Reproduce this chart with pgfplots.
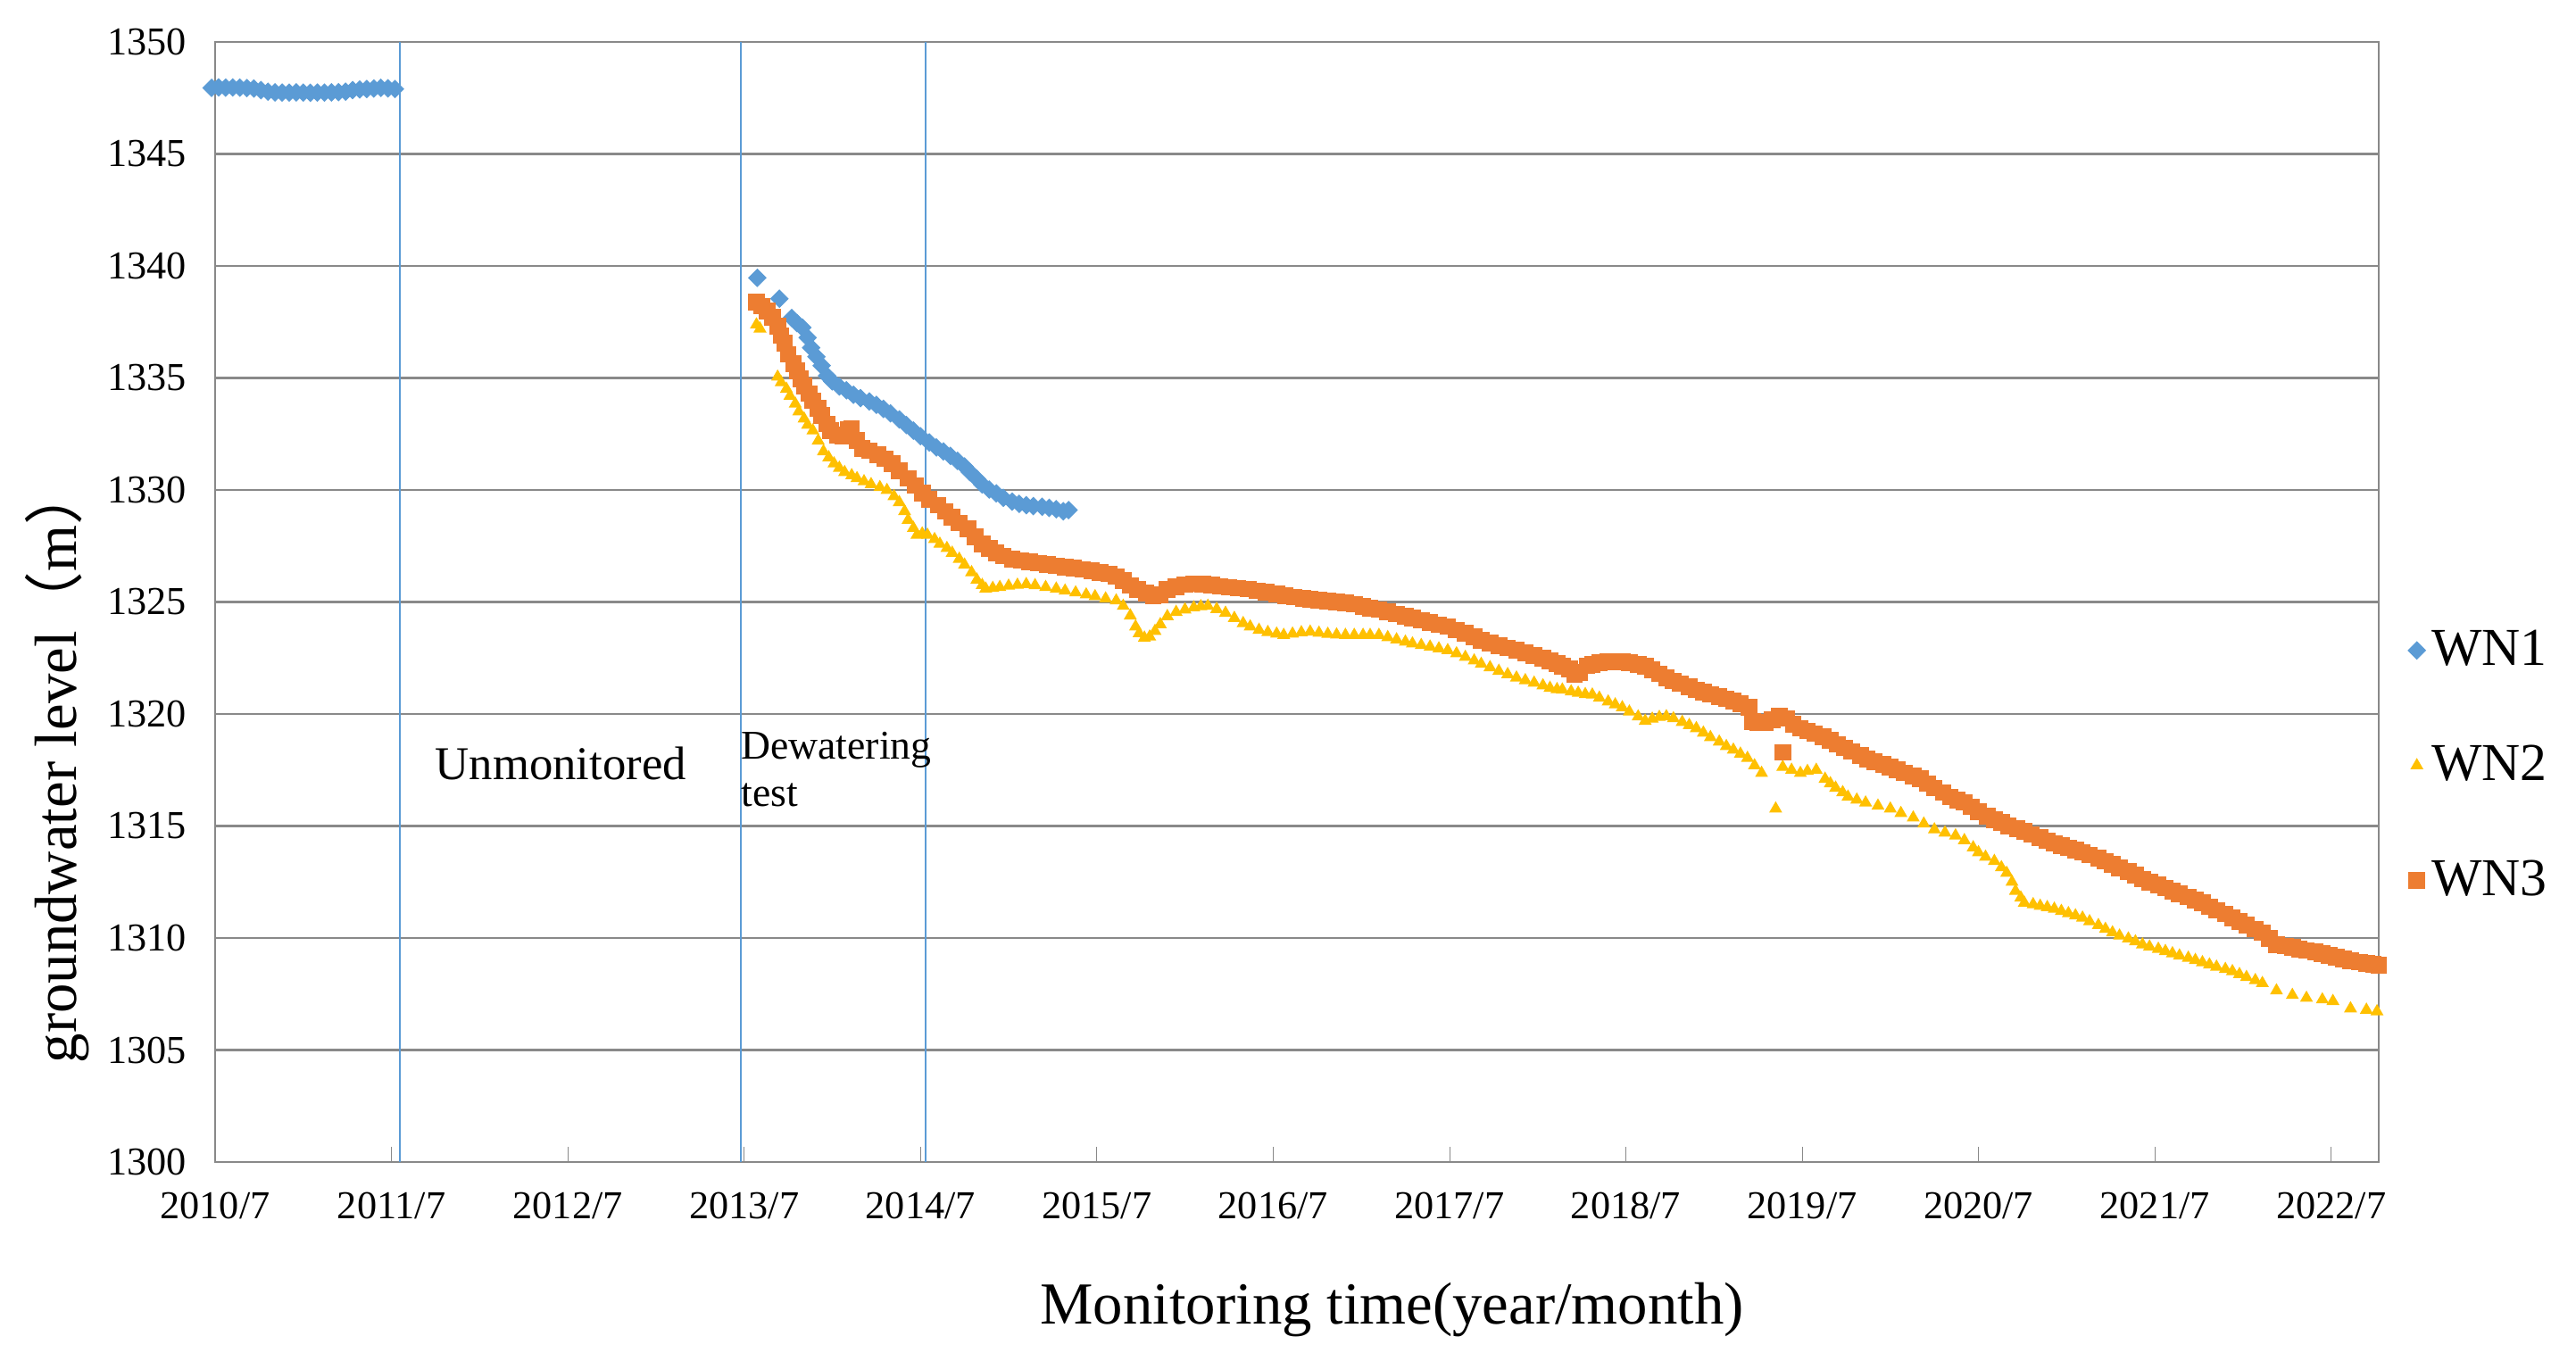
\documentclass[border=0pt]{standalone}
\usepackage{pgfplots}
\pgfplotsset{compat=1.18}
\usepackage{fontspec}
\setmainfont{Liberation Serif}
\newfontfamily\cjk{Noto Sans CJK SC}
\definecolor{wnblue}{HTML}{5B9BD5}
\definecolor{wnyellow}{HTML}{FFC000}
\definecolor{wnorange}{HTML}{ED7D31}
\definecolor{gridgray}{HTML}{898989}
\begin{document}
\begin{tikzpicture}
\useasboundingbox (-24.1mm,-21.3mm) rectangle (264.5mm,130.2mm);
\begin{axis}[
  at={(0,0)}, anchor=south west,
  scale only axis, width=242.4mm, height=125.5mm,
  xmin=2010.5, xmax=2022.77, ymin=1300, ymax=1350,
  clip=false,
  xtick={2010.5,2011.5,2012.5,2013.5,2014.5,2015.5,2016.5,2017.5,2018.5,2019.5,2020.5,2021.5,2022.5},
  xticklabels={2010/7,2011/7,2012/7,2013/7,2014/7,2015/7,2016/7,2017/7,2018/7,2019/7,2020/7,2021/7,2022/7},
  ytick={1300,1305,1310,1315,1320,1325,1330,1335,1340,1345,1350},
  yticklabels={1300,1305,1310,1315,1320,1325,1330,1335,1340,1345,1350},
  xtick pos=bottom, ytick pos=left,
  tick align=inside,
  major tick length=1.7mm,
  xtick style={draw=gridgray},
  ytick style={draw=none},
  ymajorgrids, major grid style={draw=gridgray, line width=0.28mm},
  axis line style={draw=gridgray, line width=0.22mm},
  tick label style={font=\fontsize{12.6}{15}\selectfont},
  xticklabel style={yshift=-2.2mm},
  yticklabel style={xshift=-2mm},
  xlabel={Monitoring time(year/month)},
  xlabel style={at={(axis description cs:0.544,0)}, anchor=center, yshift=-16.6mm, font=\fontsize{19}{23}\selectfont},
  ylabel={groundwater level{\cjk （}m{\cjk ）}},
  ylabel style={at={(axis description cs:0,0.355)}, anchor=center, yshift=17.7mm, font=\fontsize{19}{23}\selectfont},
  legend style={draw=none, fill=none, at={(axis description cs:1,0.354)}, anchor=west, xshift=2.2mm,
    font=\fontsize{17}{20}\selectfont, row sep=7mm},
  legend cell align=left,
  legend image code/.code={\draw[mark repeat=2,mark phase=2] plot coordinates {(0cm,0cm) (0.3cm,0cm) (0.75cm,0cm)};},
]
% monitoring phase boundaries
\addplot[wnblue, line width=0.2mm, forget plot] coordinates {(2011.55,1300) (2011.55,1350)};
\addplot[wnblue, line width=0.2mm, forget plot] coordinates {(2013.48,1300) (2013.48,1350)};
\addplot[wnblue, line width=0.2mm, forget plot] coordinates {(2014.53,1300) (2014.53,1350)};

% WN1
\addplot[only marks, mark=square*, mark size=1.9pt, color=wnblue, mark options={rotate=45}] table {
x y
2010.48 1347.95
2010.52 1347.97
2010.56 1347.96
2010.60 1347.97
2010.64 1347.96
2010.68 1347.94
2010.72 1347.92
2010.76 1347.85
2010.80 1347.78
2010.84 1347.75
2010.88 1347.74
2010.92 1347.74
2010.96 1347.75
2011.00 1347.74
2011.04 1347.73
2011.08 1347.74
2011.12 1347.74
2011.16 1347.75
2011.20 1347.76
2011.24 1347.78
2011.28 1347.85
2011.32 1347.88
2011.36 1347.90
2011.40 1347.92
2011.44 1347.95
2011.48 1347.93
2011.52 1347.90
2013.575 1339.47
2013.70 1338.54
2013.77 1337.68
2013.80 1337.45
2013.83 1337.25
2013.86 1336.80
2013.88 1336.35
2013.91 1335.95
2013.94 1335.55
2013.97 1335.10
2014.00 1334.85
2014.04 1334.62
2014.08 1334.45
2014.12 1334.25
2014.16 1334.10
2014.21 1333.95
2014.25 1333.80
2014.29 1333.62
2014.33 1333.42
2014.38 1333.15
2014.42 1332.90
2014.46 1332.65
2014.50 1332.40
2014.55 1332.12
2014.59 1331.90
2014.63 1331.72
2014.67 1331.52
2014.71 1331.30
2014.75 1331.05
2014.78 1330.80
2014.82 1330.50
2014.85 1330.25
2014.89 1330.02
2014.93 1329.85
2014.97 1329.65
2015.02 1329.48
2015.06 1329.38
2015.10 1329.32
2015.14 1329.28
2015.19 1329.25
2015.23 1329.20
2015.27 1329.14
2015.31 1329.05
2015.34 1329.10
};
\addlegendentry{WN1}

% WN2
\addplot[only marks, mark=triangle*, mark size=2pt, color=wnyellow] table {
x y
2013.57 1337.38
2013.59 1337.20
2013.69 1335.05
2013.71 1334.80
2013.74 1334.51
2013.76 1334.20
2013.79 1333.85
2013.81 1333.50
2013.84 1333.18
2013.86 1332.90
2013.89 1332.65
2013.92 1332.20
2013.95 1331.72
2013.98 1331.45
2014.01 1331.18
2014.04 1330.98
2014.07 1330.79
2014.11 1330.65
2014.14 1330.52
2014.18 1330.38
2014.22 1330.25
2014.27 1330.12
2014.31 1329.99
2014.35 1329.72
2014.38 1329.45
2014.41 1329.05
2014.43 1328.66
2014.46 1328.30
2014.48 1327.99
2014.51 1328.05
2014.54 1327.99
2014.58 1327.80
2014.61 1327.59
2014.65 1327.40
2014.68 1327.19
2014.72 1326.92
2014.75 1326.66
2014.79 1326.32
2014.82 1325.99
2014.85 1325.75
2014.87 1325.59
2014.91 1325.62
2014.95 1325.66
2015.00 1325.72
2015.05 1325.76
2015.10 1325.79
2015.15 1325.74
2015.21 1325.66
2015.27 1325.59
2015.32 1325.50
2015.38 1325.42
2015.44 1325.33
2015.49 1325.25
2015.55 1325.15
2015.61 1325.06
2015.65 1324.82
2015.69 1324.39
2015.72 1323.90
2015.74 1323.60
2015.77 1323.40
2015.80 1323.45
2015.83 1323.70
2015.86 1324.00
2015.90 1324.36
2015.95 1324.55
2016.00 1324.66
2016.05 1324.75
2016.09 1324.80
2016.13 1324.82
2016.18 1324.68
2016.23 1324.51
2016.28 1324.28
2016.33 1324.05
2016.37 1323.90
2016.42 1323.75
2016.47 1323.65
2016.52 1323.58
2016.56 1323.52
2016.61 1323.58
2016.66 1323.64
2016.71 1323.67
2016.76 1323.62
2016.81 1323.57
2016.86 1323.54
2016.91 1323.52
2016.96 1323.52
2017.01 1323.52
2017.05 1323.52
2017.10 1323.52
2017.15 1323.42
2017.20 1323.32
2017.25 1323.22
2017.29 1323.14
2017.34 1323.07
2017.39 1323.00
2017.44 1322.92
2017.49 1322.84
2017.54 1322.70
2017.59 1322.54
2017.64 1322.38
2017.68 1322.23
2017.73 1322.08
2017.78 1321.92
2017.83 1321.77
2017.88 1321.62
2017.93 1321.50
2017.98 1321.39
2018.03 1321.27
2018.07 1321.16
2018.11 1321.10
2018.14 1321.08
2018.19 1321.00
2018.23 1320.94
2018.27 1320.88
2018.31 1320.86
2018.35 1320.72
2018.40 1320.55
2018.44 1320.42
2018.48 1320.29
2018.52 1320.10
2018.57 1319.88
2018.61 1319.69
2018.65 1319.78
2018.69 1319.86
2018.73 1319.89
2018.77 1319.80
2018.82 1319.64
2018.86 1319.50
2018.90 1319.36
2018.94 1319.16
2018.98 1318.96
2019.03 1318.76
2019.07 1318.56
2019.11 1318.40
2019.15 1318.22
2019.19 1318.03
2019.23 1317.70
2019.27 1317.36
2019.35 1315.77
2019.39 1317.63
2019.44 1317.50
2019.49 1317.36
2019.53 1317.45
2019.58 1317.50
2019.63 1317.10
2019.66 1316.90
2019.69 1316.70
2019.73 1316.50
2019.76 1316.30
2019.81 1316.17
2019.86 1316.04
2019.93 1315.90
2020.00 1315.77
2020.06 1315.57
2020.13 1315.37
2020.19 1315.10
2020.25 1314.84
2020.31 1314.70
2020.37 1314.57
2020.42 1314.36
2020.47 1314.04
2020.50 1313.82
2020.54 1313.62
2020.59 1313.43
2020.63 1313.15
2020.66 1312.90
2020.69 1312.50
2020.71 1312.10
2020.74 1311.80
2020.76 1311.57
2020.81 1311.50
2020.85 1311.43
2020.89 1311.37
2020.93 1311.30
2020.97 1311.20
2021.01 1311.10
2021.05 1311.00
2021.09 1310.90
2021.13 1310.74
2021.18 1310.57
2021.22 1310.40
2021.26 1310.24
2021.30 1310.10
2021.35 1309.97
2021.39 1309.84
2021.43 1309.71
2021.47 1309.61
2021.52 1309.51
2021.56 1309.41
2021.60 1309.31
2021.64 1309.21
2021.69 1309.11
2021.73 1309.01
2021.77 1308.91
2021.81 1308.81
2021.85 1308.71
2021.90 1308.61
2021.94 1308.51
2021.98 1308.38
2022.02 1308.25
2022.07 1308.11
2022.11 1307.98
2022.19 1307.65
2022.28 1307.45
2022.36 1307.32
2022.45 1307.25
2022.51 1307.18
2022.61 1306.85
2022.70 1306.79
2022.76 1306.72
};
\addlegendentry{WN2}

% WN3
\addplot[only marks, mark=square*, mark size=2.45pt, color=wnorange] table {
x y
2013.57 1338.38
2013.60 1338.20
2013.63 1338.00
2013.66 1337.70
2013.69 1337.31
2013.71 1336.90
2013.73 1336.55
2013.75 1336.05
2013.78 1335.65
2013.80 1335.31
2013.82 1334.95
2013.84 1334.65
2013.87 1334.30
2013.89 1333.98
2013.92 1333.65
2013.94 1333.32
2013.97 1332.95
2013.99 1332.65
2014.03 1332.45
2014.06 1332.40
2014.09 1332.70
2014.11 1332.75
2014.14 1332.20
2014.17 1331.85
2014.21 1331.75
2014.26 1331.58
2014.30 1331.40
2014.34 1331.18
2014.38 1330.85
2014.43 1330.52
2014.47 1330.20
2014.51 1329.85
2014.55 1329.58
2014.60 1329.32
2014.64 1329.05
2014.68 1328.79
2014.72 1328.52
2014.77 1328.26
2014.81 1327.92
2014.85 1327.59
2014.89 1327.38
2014.93 1327.19
2014.97 1327.05
2015.02 1326.92
2015.07 1326.85
2015.12 1326.80
2015.17 1326.74
2015.22 1326.68
2015.27 1326.62
2015.32 1326.56
2015.37 1326.52
2015.42 1326.46
2015.47 1326.40
2015.52 1326.32
2015.57 1326.25
2015.61 1326.13
2015.65 1325.95
2015.69 1325.73
2015.73 1325.55
2015.78 1325.40
2015.82 1325.28
2015.86 1325.33
2015.90 1325.55
2015.95 1325.68
2016.00 1325.78
2016.05 1325.82
2016.10 1325.80
2016.15 1325.75
2016.20 1325.70
2016.25 1325.66
2016.30 1325.62
2016.36 1325.58
2016.41 1325.50
2016.46 1325.43
2016.52 1325.35
2016.57 1325.28
2016.62 1325.22
2016.67 1325.16
2016.71 1325.12
2016.76 1325.08
2016.81 1325.04
2016.86 1325.00
2016.91 1324.97
2016.96 1324.90
2017.01 1324.80
2017.05 1324.73
2017.10 1324.66
2017.15 1324.56
2017.20 1324.46
2017.25 1324.36
2017.29 1324.28
2017.34 1324.18
2017.39 1324.08
2017.44 1323.99
2017.49 1323.90
2017.54 1323.75
2017.59 1323.60
2017.64 1323.45
2017.68 1323.29
2017.73 1323.18
2017.78 1323.06
2017.83 1322.95
2017.88 1322.84
2017.93 1322.72
2017.98 1322.60
2018.03 1322.50
2018.07 1322.38
2018.11 1322.25
2018.14 1322.14
2018.18 1322.00
2018.21 1321.75
2018.24 1321.85
2018.28 1322.15
2018.31 1322.21
2018.35 1322.28
2018.40 1322.32
2018.44 1322.34
2018.48 1322.34
2018.52 1322.30
2018.57 1322.22
2018.61 1322.14
2018.65 1321.98
2018.69 1321.80
2018.73 1321.61
2018.77 1321.48
2018.81 1321.35
2018.86 1321.22
2018.90 1321.08
2018.94 1320.98
2018.98 1320.88
2019.03 1320.78
2019.07 1320.68
2019.11 1320.58
2019.15 1320.45
2019.20 1320.29
2019.22 1319.65
2019.25 1319.62
2019.29 1319.62
2019.33 1319.75
2019.37 1319.89
2019.39 1318.29
2019.41 1319.80
2019.45 1319.55
2019.49 1319.36
2019.53 1319.25
2019.57 1319.12
2019.62 1318.98
2019.66 1318.82
2019.70 1318.65
2019.74 1318.48
2019.78 1318.32
2019.83 1318.16
2019.87 1318.00
2019.91 1317.88
2019.96 1317.75
2020.00 1317.63
2020.04 1317.50
2020.08 1317.37
2020.13 1317.24
2020.17 1317.10
2020.21 1316.90
2020.25 1316.70
2020.30 1316.50
2020.34 1316.30
2020.38 1316.15
2020.42 1316.05
2020.46 1315.85
2020.50 1315.64
2020.55 1315.45
2020.59 1315.29
2020.63 1315.15
2020.67 1315.00
2020.72 1314.88
2020.76 1314.75
2020.80 1314.62
2020.85 1314.48
2020.89 1314.35
2020.93 1314.22
2020.97 1314.12
2021.01 1314.02
2021.05 1313.92
2021.09 1313.82
2021.13 1313.70
2021.18 1313.56
2021.22 1313.43
2021.26 1313.29
2021.30 1313.12
2021.35 1312.96
2021.39 1312.80
2021.43 1312.63
2021.47 1312.50
2021.52 1312.36
2021.56 1312.23
2021.60 1312.10
2021.64 1311.97
2021.69 1311.84
2021.73 1311.70
2021.77 1311.57
2021.81 1311.40
2021.85 1311.24
2021.90 1311.07
2021.94 1310.90
2021.98 1310.74
2022.02 1310.57
2022.07 1310.40
2022.11 1310.24
2022.15 1309.98
2022.19 1309.71
2022.24 1309.64
2022.28 1309.58
2022.32 1309.51
2022.36 1309.44
2022.41 1309.38
2022.45 1309.31
2022.49 1309.22
2022.53 1309.14
2022.57 1309.06
2022.61 1308.98
2022.66 1308.92
2022.70 1308.86
2022.74 1308.82
2022.77 1308.78
};
\addlegendentry{WN3}

\node[font=\fontsize{15}{18}\selectfont] at (axis cs:2012.46,1317.8) {Unmonitored};
\node[font=\fontsize{13}{15}\selectfont, anchor=west, inner sep=0pt] at (axis cs:2013.48,1318.4) {Dewatering};
\node[font=\fontsize{13}{15}\selectfont, anchor=west, inner sep=0pt] at (axis cs:2013.48,1316.4) {test};
\end{axis}
\end{tikzpicture}
\end{document}
